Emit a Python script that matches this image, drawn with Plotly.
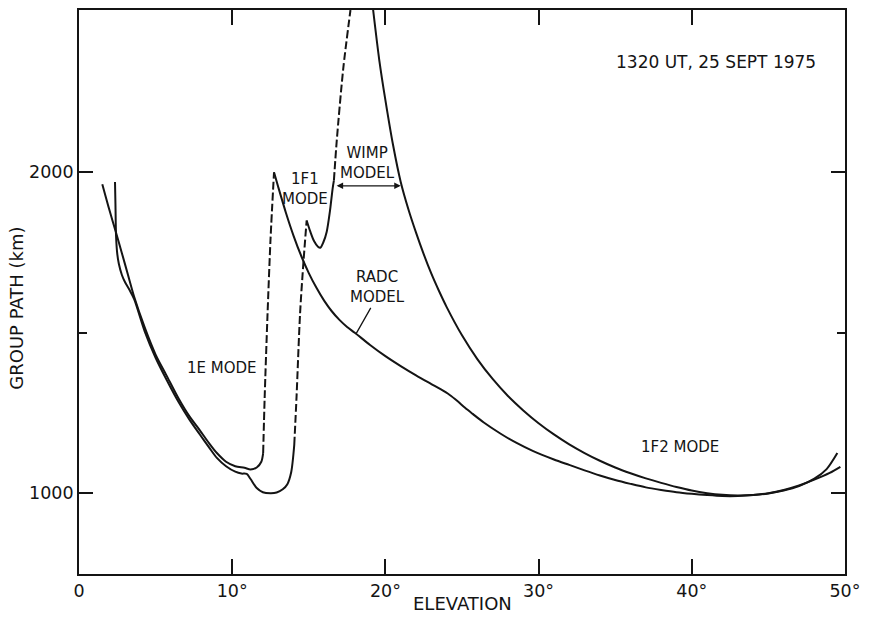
import plotly.graph_objects as go

# ---------------- data ----------------
# RADC model: 1E mode (solid), transition (dashed), 1F/1F2 branch (solid)
radc_e_x = [1.52, 2.0, 2.4, 2.8, 3.2, 3.6, 4.3, 5.0, 5.7, 6.5, 7.2, 7.9, 8.5, 9.0, 9.6, 10.2, 10.8, 11.2, 11.6, 11.9, 12.02]
radc_e_y = [1963, 1880, 1815, 1748, 1680, 1612, 1515, 1432, 1368, 1295, 1240, 1195, 1155, 1125, 1098, 1084, 1079, 1074, 1080, 1098, 1125]
radc_dash_x = [12.02, 12.12, 12.3, 12.5, 12.73]
radc_dash_y = [1125, 1300, 1550, 1790, 2000]
radc_f_x = [12.73, 13.0, 13.5, 14.0, 14.5, 15.0, 15.5, 16.0, 16.5, 17.0, 17.5, 18.0, 19.0, 20.0, 21.0, 22.0, 23.0, 23.6, 24.2, 24.7, 25.2, 25.7, 26.4, 27.5, 28.5, 29.65, 31.0, 32.0, 33.0, 34.0, 35.0, 36.0, 37.0, 38.0, 39.0, 40.0, 41.0, 42.0, 43.0, 44.0, 45.0, 46.0, 47.0, 48.0, 49.0, 49.7]
radc_f_y = [2000, 1955, 1875, 1803, 1740, 1686, 1640, 1600, 1567, 1540, 1518, 1500, 1462, 1427, 1396, 1367, 1340, 1324, 1306, 1287, 1266, 1247, 1221, 1186, 1158, 1131, 1105, 1088, 1071, 1055, 1041, 1029, 1018, 1010, 1003, 998, 994, 991, 991, 994, 1000, 1010, 1024, 1042, 1063, 1082]

# WIMP model: 1E mode, dashed transition, 1F1 mode, dashed, 1F2 branch
wimp_e_x = [2.35, 2.38, 2.42, 2.5, 2.6, 2.8, 3.0, 3.3, 3.6, 4.3, 5.0, 5.7, 6.5, 7.2, 7.9, 8.5, 9.0, 9.6, 10.2, 10.6, 10.95, 11.2, 11.6, 12.0, 12.5, 12.9, 13.3, 13.6, 13.85, 14.05]
wimp_e_y = [1970, 1900, 1800, 1745, 1715, 1680, 1658, 1633, 1605, 1503, 1422, 1355, 1284, 1230, 1182, 1142, 1110, 1084, 1067, 1061, 1060, 1044, 1016, 1003, 1000, 1002, 1012, 1028, 1065, 1150]
wimp_e_dash_x = [14.05, 14.2, 14.43, 14.65, 14.86]
wimp_e_dash_y = [1150, 1300, 1560, 1720, 1850]
wimp_f1_x = [14.86, 15.1, 15.35, 15.6, 15.75, 15.95, 16.17, 16.38, 16.56, 16.64]
wimp_f1_y = [1850, 1815, 1785, 1768, 1765, 1782, 1815, 1879, 1951, 1975]
wimp_f1_dash_x = [16.64, 16.82, 17.25, 17.72]
wimp_f1_dash_y = [1975, 2096, 2324, 2506]
wimp_f2_x = [19.2, 19.6, 20.0, 20.5, 21.0, 21.5, 22.0, 22.5, 23.0, 23.5, 24.0, 25.0, 26.0, 27.0, 28.0, 29.0, 30.0, 31.0, 32.0, 33.0, 34.0, 35.0, 36.0, 37.0, 38.0, 39.0, 40.0, 41.0, 42.0, 43.0, 44.0, 45.0, 46.0, 47.0, 48.0, 48.8, 49.5]
wimp_f2_y = [2506, 2350, 2225, 2085, 1970, 1885, 1812, 1745, 1684, 1630, 1580, 1492, 1418, 1356, 1303, 1258, 1218, 1183, 1152, 1125, 1101, 1080, 1062, 1046, 1032, 1019, 1008, 1000, 995, 993, 994, 999, 1008, 1022, 1045, 1075, 1125]

x_tickvals = [0, 10, 20, 30, 40, 50]
x_ticktext = ["0", "10°", "20°", "30°", "40°", "50°"]
y_tickvals = [1000, 2000]
y_ticktext = ["1000", "2000"]
y_minor_vals = [1500]

# ---------------- figure ----------------
INK = "#141414"
FONT = "DejaVu Sans"

fig = go.Figure()


def add_line(xs, ys, dash="solid"):
    fig.add_trace(go.Scatter(
        x=xs, y=ys, mode="lines",
        line=dict(color=INK, width=2, dash=dash, shape="spline", smoothing=0.8),
        showlegend=False, hoverinfo="skip"))


add_line(radc_e_x, radc_e_y)
add_line(radc_dash_x, radc_dash_y, dash="8px,3px")
add_line(radc_f_x, radc_f_y)
add_line(wimp_e_x, wimp_e_y)
add_line(wimp_e_dash_x, wimp_e_dash_y, dash="8px,3px")
add_line(wimp_f1_x, wimp_f1_y)
add_line(wimp_f1_dash_x, wimp_f1_dash_y, dash="8px,3px")
add_line(wimp_f2_x, wimp_f2_y)

label_font = dict(family=FONT, size=15, color=INK)

fig.add_annotation(x=41.6, y=2345, text="1320 UT, 25 SEPT 1975", showarrow=False,
                   font=dict(family=FONT, size=17, color=INK))
fig.add_annotation(x=9.33, y=1391, text="1E MODE", showarrow=False, font=label_font)
fig.add_annotation(x=14.75, y=1947, text="1F1<br>MODE", showarrow=False, font=label_font)
fig.add_annotation(x=18.8, y=2030, text="WIMP<br>MODEL", showarrow=False, font=label_font)
fig.add_annotation(x=19.5, y=1643, text="RADC<br>MODEL", showarrow=False, font=label_font)
fig.add_annotation(x=39.2, y=1143, text="1F2 MODE", showarrow=False, font=label_font)

# WIMP double arrow between the two branches
fig.add_annotation(x=21.0, y=1958, ax=16.72, ay=1958, axref="x", ayref="y",
                   xref="x", yref="y", text="", showarrow=True,
                   arrowhead=2, arrowside="end+start", arrowsize=1, arrowwidth=1.3,
                   arrowcolor=INK)
# RADC pointer
fig.add_annotation(x=18.1, y=1498, ax=19.1, ay=1582, axref="x", ayref="y",
                   xref="x", yref="y", text="", showarrow=True,
                   arrowhead=0, arrowwidth=1.3, arrowcolor=INK)

# axis titles
fig.add_annotation(xref="paper", yref="paper", x=0.5, y=-0.053, text="ELEVATION",
                   showarrow=False, font=dict(family=FONT, size=18, color=INK),
                   xanchor="center", yanchor="middle")
fig.add_annotation(xref="paper", yref="paper", x=-0.081, y=0.472, text="GROUP PATH (km)",
                   showarrow=False, textangle=-90,
                   font=dict(family=FONT, size=18, color=INK),
                   xanchor="center", yanchor="middle")

axis_common = dict(showline=True, linecolor=INK, linewidth=1.8, mirror="ticks",
                   ticks="inside", tickcolor=INK, tickwidth=1.5, showgrid=False,
                   zeroline=False, tickfont=dict(family=FONT, size=17.5, color=INK))

fig.update_xaxes(range=[0, 50], tickmode="array", tickvals=x_tickvals, ticktext=x_ticktext,
                 ticklen=15, **axis_common)
fig.update_yaxes(range=[748, 2506], tickmode="array", tickvals=y_tickvals, ticktext=y_ticktext,
                 ticklen=14,
                 minor=dict(tickmode="array", tickvals=y_minor_vals, ticks="inside",
                            ticklen=8, tickcolor=INK, tickwidth=1.5),
                 **axis_common)

fig.update_layout(width=869, height=619,
                  margin=dict(l=79, r=24, t=8, b=45),
                  paper_bgcolor="white", plot_bgcolor="white",
                  showlegend=False)

fig.write_html("out.html")
